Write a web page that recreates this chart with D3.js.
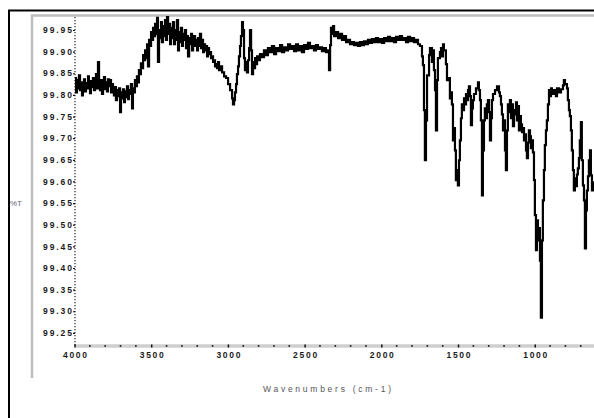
<!DOCTYPE html>
<html>
<head>
<meta charset="utf-8">
<script src="https://cdn.jsdelivr.net/npm/d3@7"></script>
<style>
  html, body { margin: 0; padding: 0; background: #fff; }
  svg { display: block; }
</style>
</head>
<body>
<svg id="chart" width="594" height="418"></svg>
<script>
// IR transmittance spectrum, wavenumber (cm-1) vs %T
const wavenumber = [
  3997,3990,3984,3977,3971,3964,3958,3951,3945,3938,3932,3925,3919,3912,3906,3899,3893,3886,3880,3873,
  3866,3860,3853,3847,3840,3834,3827,3821,3814,3808,3801,3795,3788,3782,3775,3769,3762,3756,3749,3743,
  3736,3730,3723,3717,3710,3703,3697,3690,3684,3677,3671,3664,3658,3651,3645,3638,3632,3625,3619,3612,
  3606,3599,3593,3586,3580,3573,3567,3560,3553,3547,3540,3534,3527,3521,3514,3508,3501,3495,3488,3482,
  3475,3469,3462,3456,3449,3443,3436,3430,3423,3417,3410,3403,3397,3390,3384,3377,3371,3364,3358,3351,
  3345,3338,3332,3325,3319,3312,3306,3299,3293,3286,3280,3273,3267,3260,3253,3247,3240,3234,3227,3221,
  3214,3208,3201,3195,3188,3182,3175,3169,3162,3156,3149,3143,3136,3130,3123,3117,3110,3103,3097,3090,
  3084,3077,3071,3064,3058,3051,3038,3025,3012,2999,2986,2973,2967,2960,2954,2947,2941,2934,2928,2921,
  2915,2908,2902,2895,2889,2882,2876,2869,2862,2856,2849,2843,2836,2830,2823,2817,2810,2804,2791,2778,
  2765,2752,2739,2726,2713,2699,2686,2673,2660,2647,2634,2621,2608,2595,2582,2569,2556,2543,2530,2517,
  2504,2491,2478,2465,2452,2439,2426,2413,2400,2387,2374,2361,2347,2341,2334,2328,2321,2315,2308,2295,
  2282,2269,2256,2243,2230,2217,2204,2191,2178,2165,2152,2139,2126,2113,2100,2087,2074,2061,2048,2035,
  2022,2009,1995,1982,1969,1956,1943,1930,1917,1904,1891,1878,1865,1852,1839,1826,1813,1800,1787,1774,
  1761,1748,1735,1729,1722,1716,1709,1702,1689,1683,1670,1663,1657,1650,1644,1637,1631,1618,1611,1605,
  1598,1592,1579,1572,1566,1553,1546,1540,1533,1527,1520,1514,1507,1501,1494,1488,1481,1475,1468,1461,
  1455,1448,1442,1435,1429,1422,1416,1409,1403,1396,1383,1370,1364,1357,1351,1344,1338,1331,1325,1318,
  1312,1305,1298,1292,1285,1279,1272,1259,1246,1233,1227,1220,1214,1207,1201,1194,1188,1181,1175,1168,
  1162,1155,1149,1142,1135,1129,1122,1116,1109,1103,1096,1090,1083,1077,1070,1064,1057,1051,1044,1038,
  1031,1025,1018,1012,1005,999,992,986,979,973,966,960,953,947,940,934,927,921,914,907,
  901,894,888,875,862,855,842,829,816,810,803,790,784,777,771,764,758,751,745,738,
  732,725,719,712,706,699,693,686,679,673,666,660,653,647,640,634,627,621,614,601
];

const transmittance = [
  99.839,99.806,99.834,99.815,99.845,99.811,99.829,99.799,99.825,99.836,99.808,99.827,99.815,99.843,99.820,99.804,99.832,99.818,99.839,99.811,
  99.825,99.848,99.815,99.876,99.822,99.811,99.834,99.802,99.827,99.841,99.813,99.829,99.808,99.836,99.820,99.834,99.806,99.825,99.815,99.799,
  99.818,99.788,99.811,99.797,99.815,99.760,99.806,99.792,99.813,99.783,99.808,99.795,99.820,99.790,99.811,99.802,99.825,99.769,99.815,99.806,
  99.834,99.820,99.843,99.829,99.857,99.848,99.873,99.862,99.892,99.880,99.903,99.885,99.917,99.866,99.927,99.913,99.945,99.927,99.955,99.936,
  99.964,99.941,99.978,99.876,99.950,99.931,99.968,99.922,99.959,99.936,99.973,99.927,99.980,99.941,99.964,99.917,99.955,99.931,99.968,99.917,
  99.950,99.927,99.973,99.903,99.945,99.922,99.955,99.913,99.941,99.927,99.950,99.908,99.936,99.889,99.931,99.917,99.941,99.903,99.927,99.936,
  99.913,99.927,99.903,99.931,99.913,99.941,99.908,99.927,99.899,99.917,99.903,99.913,99.889,99.908,99.894,99.899,99.885,99.889,99.876,99.880,
  99.866,99.871,99.862,99.876,99.857,99.866,99.852,99.843,99.839,99.825,99.811,99.792,99.778,99.788,99.806,99.825,99.848,99.866,99.889,99.913,
  99.936,99.968,99.950,99.885,99.857,99.876,99.852,99.880,99.908,99.950,99.903,99.848,99.876,99.862,99.885,99.871,99.889,99.880,99.894,99.887,
  99.903,99.892,99.908,99.899,99.913,99.894,99.908,99.901,99.915,99.899,99.910,99.903,99.917,99.906,99.913,99.901,99.917,99.903,99.913,99.899,
  99.915,99.906,99.920,99.908,99.913,99.903,99.915,99.906,99.910,99.901,99.908,99.899,99.903,99.857,99.915,99.955,99.941,99.959,99.936,99.945,
  99.931,99.941,99.927,99.936,99.922,99.927,99.917,99.922,99.915,99.920,99.913,99.922,99.915,99.924,99.917,99.927,99.920,99.929,99.922,99.931,
  99.922,99.929,99.920,99.931,99.924,99.934,99.924,99.931,99.922,99.934,99.927,99.936,99.927,99.931,99.922,99.934,99.924,99.931,99.922,99.927,
  99.917,99.913,99.889,99.869,99.765,99.649,99.741,99.845,99.892,99.908,99.876,99.903,99.857,99.811,99.718,99.834,99.885,99.899,99.908,99.889,
  99.917,99.903,99.871,99.834,99.839,99.792,99.806,99.778,99.695,99.723,99.672,99.603,99.626,99.591,99.649,99.695,99.746,99.778,99.765,99.792,
  99.778,99.802,99.788,99.811,99.820,99.797,99.730,99.769,99.788,99.802,99.815,99.829,99.811,99.788,99.741,99.568,99.672,99.741,99.769,99.746,
  99.778,99.788,99.760,99.695,99.746,99.788,99.802,99.811,99.820,99.806,99.797,99.778,99.755,99.718,99.741,99.672,99.626,99.718,99.778,99.760,
  99.788,99.746,99.778,99.728,99.765,99.755,99.783,99.741,99.774,99.718,99.751,99.732,99.714,99.723,99.695,99.709,99.672,99.654,99.690,99.718,
  99.704,99.677,99.695,99.667,99.603,99.522,99.441,99.510,99.464,99.492,99.417,99.285,99.464,99.556,99.626,99.684,99.718,99.741,99.778,99.811,
  99.797,99.815,99.802,99.811,99.797,99.815,99.806,99.813,99.822,99.834,99.825,99.815,99.788,99.765,99.751,99.718,99.672,99.626,99.579,99.607,
  99.589,99.616,99.630,99.654,99.695,99.737,99.649,99.591,99.556,99.445,99.533,99.579,99.612,99.649,99.672,99.614,99.579,99.598,99.589,99.603
];

const xTicks = [4000, 3500, 3000, 2500, 2000, 1500, 1000];
const xMinorTicks = [3900, 3800, 3700, 3600, 3400, 3300, 3200, 3100, 2900, 2800, 2700, 2600,
  2400, 2300, 2200, 2100, 1900, 1800, 1700, 1600, 1400, 1300, 1200, 1100, 900, 800, 700];
const yTicks = [99.95, 99.90, 99.85, 99.80, 99.75, 99.70, 99.65, 99.60, 99.55, 99.50,
  99.45, 99.40, 99.35, 99.30, 99.25];
const xTitle = "Wavenumbers (cm-1)";
const yTitle = "%T";

const svg = d3.select("#chart");
const W = 594, H = 418;
const plot = { left: 75, top: 17, bottom: 345, right: 596 };

const x = d3.scaleLinear().domain([4000, 600]).range([74.5, 596.1]);
const y = d3.scaleLinear().domain([99.222, 99.980]).range([plot.bottom, plot.top]);

// outer window frame
svg.append("rect")
  .attr("x", 9).attr("y", 10.5)
  .attr("width", W + 20).attr("height", H + 20)
  .attr("fill", "none").attr("stroke", "#000").attr("stroke-width", 2);

// inner panel frame (left and top edges)
svg.append("path")
  .attr("d", `M32,378 L32,15.5 L${W + 5},15.5`)
  .attr("fill", "none").attr("stroke", "#bdbdbd").attr("stroke-width", 2.5);

// x axis band
svg.append("line")
  .attr("x1", plot.left).attr("x2", W + 5)
  .attr("y1", plot.bottom + 1).attr("y2", plot.bottom + 1)
  .attr("stroke", "#cfcfcf").attr("stroke-width", 3.5);

// y axis dotted line
svg.append("line")
  .attr("x1", plot.left).attr("x2", plot.left)
  .attr("y1", plot.top).attr("y2", plot.bottom + 1)
  .attr("stroke", "#222").attr("stroke-width", 1.2)
  .attr("stroke-dasharray", "1.2,1.8");

// minor x tick dots
svg.append("g").selectAll("rect")
  .data(xMinorTicks)
  .join("rect")
  .attr("x", d => x(d) - 0.8).attr("y", plot.bottom)
  .attr("width", 1.6).attr("height", 1.8)
  .attr("fill", "#222");

// major x ticks and labels
const xAxis = svg.append("g")
  .attr("transform", `translate(0,${plot.bottom - 0.5})`)
  .call(d3.axisBottom(x).tickValues(xTicks).tickSize(3).tickPadding(4).tickFormat(d3.format("d")));
xAxis.select(".domain").remove();
xAxis.selectAll(".tick line").attr("stroke", "#111").attr("stroke-width", 1.5);
xAxis.selectAll(".tick text")
  .attr("font-family", "Liberation Sans, Arial, sans-serif")
  .attr("font-size", 8.5).attr("font-weight", "bold")
  .attr("fill", "#1a1a1a")
  .attr("textLength", 24).attr("lengthAdjust", "spacing");

// y ticks and labels
const yAxis = svg.append("g")
  .attr("transform", `translate(${plot.left},0)`)
  .call(d3.axisLeft(y).tickValues(yTicks).tickSize(2).tickPadding(1).tickFormat(d3.format(".2f")));
yAxis.select(".domain").remove();
yAxis.selectAll(".tick line").attr("stroke", "#111").attr("stroke-width", 1.2);
yAxis.selectAll(".tick text")
  .attr("font-family", "Liberation Sans, Arial, sans-serif")
  .attr("font-size", 8.5).attr("font-weight", "bold")
  .attr("fill", "#1a1a1a")
  .attr("textLength", 29).attr("lengthAdjust", "spacing");

// axis titles
svg.append("text")
  .attr("x", 327).attr("y", 392)
  .attr("text-anchor", "middle")
  .attr("font-family", "Liberation Sans, Arial, sans-serif")
  .attr("font-size", 8.5)
  .attr("fill", "#555")
  .attr("textLength", 128).attr("lengthAdjust", "spacing")
  .text(xTitle);

svg.append("text")
  .attr("x", 10).attr("y", 206)
  .attr("font-family", "Liberation Sans, Arial, sans-serif")
  .attr("font-size", 8)
  .attr("fill", "#667")
  .text(yTitle);

// spectrum trace, drawn as a stepped polyline like a raster plotter
const pts = wavenumber.map((w, i) => [w, transmittance[i]]);
svg.append("defs").append("clipPath").attr("id", "plotclip")
  .append("rect").attr("x", plot.left).attr("y", plot.top - 1)
  .attr("width", W - plot.left + 5).attr("height", plot.bottom - plot.top + 1);

svg.append("path")
  .datum(pts)
  .attr("clip-path", "url(#plotclip)")
  .attr("fill", "none")
  .attr("stroke", "#000")
  .attr("stroke-width", 2.2)
  .attr("stroke-linejoin", "miter")
  .attr("d", d3.line().curve(d3.curveStepAfter).x(d => x(d[0])).y(d => y(d[1])));
</script>
</body>
</html>
